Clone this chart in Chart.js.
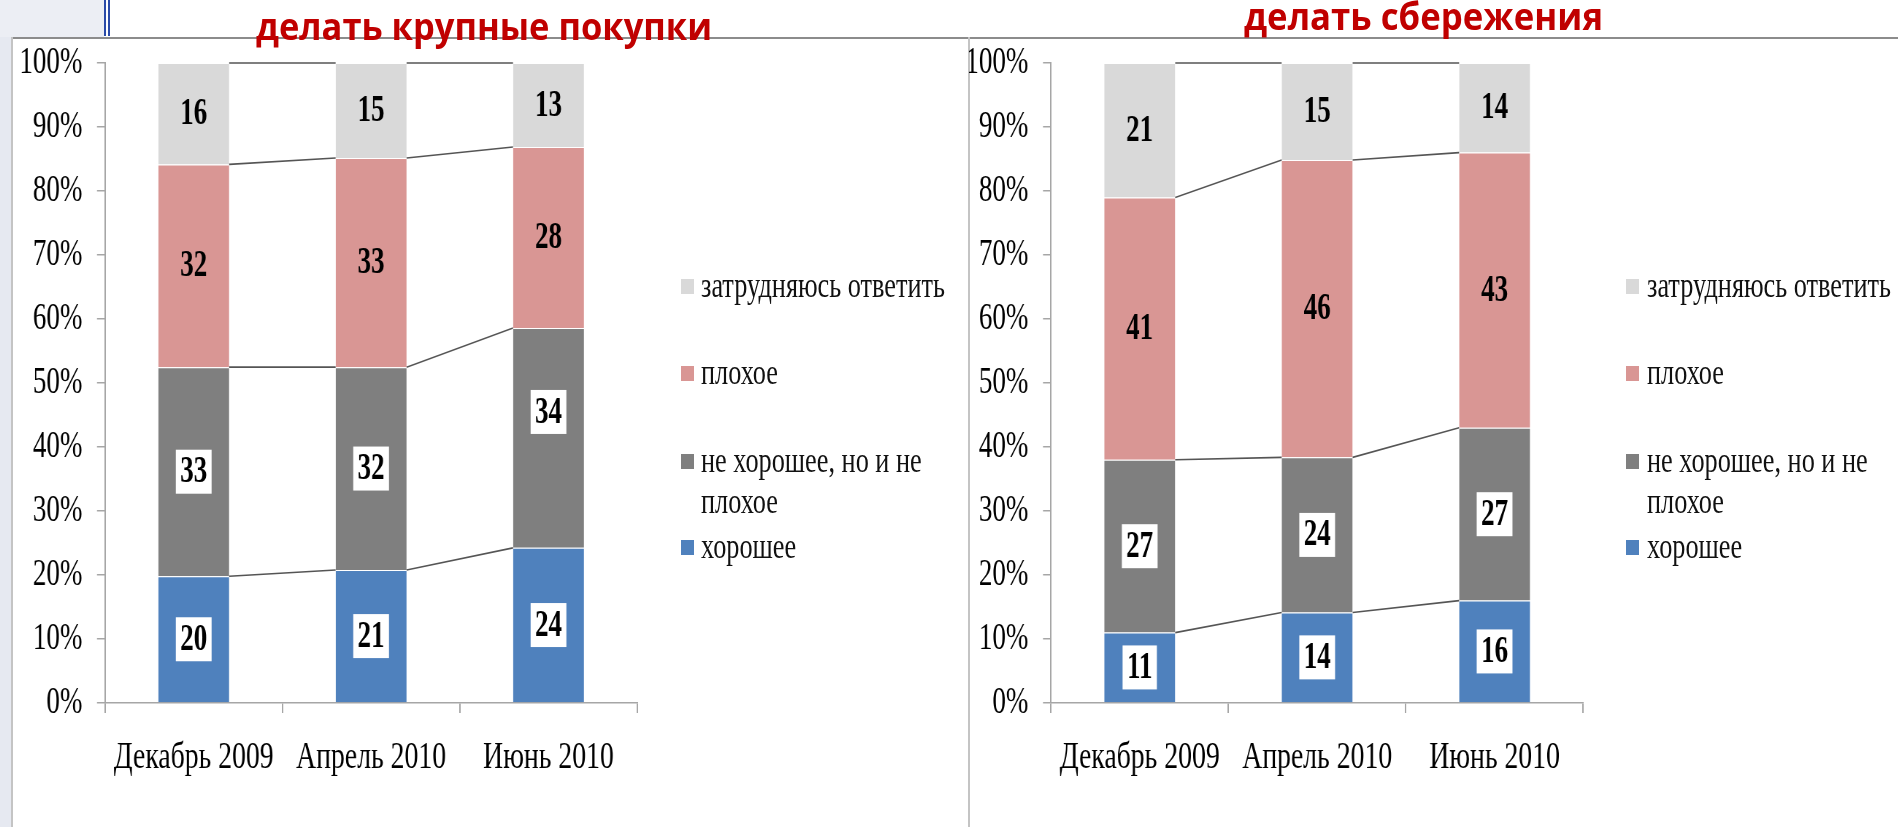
<!DOCTYPE html>
<html>
<head>
<meta charset="utf-8">
<script src="https://cdn.jsdelivr.net/npm/chart.js@4.4.0/dist/chart.umd.min.js"></script>
<style>
  html, body { margin: 0; padding: 0; }
  body { width: 1898px; height: 827px; position: relative; background: #fff; overflow: hidden; }
  .abs { position: absolute; }
  canvas.abs { transform-origin: 0 0; }
  .title { position: absolute; font-family: "Open Sans", sans-serif; font-weight: 700; color: #C00000;
           font-size: 38px; line-height: 38px; white-space: nowrap; transform-origin: 0 0; }
  .leg-box { position: absolute; width: 13px; height: 15px; }
  .leg-text { position: absolute; font-family: "Liberation Serif", "Times New Roman", serif; font-size: 36px;
              line-height: 41px; color: #111; white-space: nowrap; transform-origin: 0 50%; }
</style>
</head>
<body>
<!-- slide decoration at the left edge -->
<div class="abs" style="left:0;top:0;width:11px;height:827px;background:#e6e9f1"></div>
<div class="abs" style="left:0;top:0;width:104px;height:37px;background:#eceef4"></div>
<div class="abs" style="left:104px;top:0;width:2px;height:36px;background:#2a4aa8"></div>
<div class="abs" style="left:108px;top:0;width:2px;height:36px;background:#2a4aa8"></div>

<!-- frames -->
<div class="abs" style="left:11px;top:37px;width:1887px;height:1.5px;background:#8c8c8c"></div>
<div class="abs" style="left:11px;top:37px;width:1.5px;height:790px;background:#c4c4c4"></div>
<div class="abs" style="left:968px;top:37px;width:1.5px;height:790px;background:#c4c4c4"></div>

<canvas id="purchases" class="abs" style="left:11px;top:37px"></canvas>
<canvas id="savings" class="abs" style="left:969px;top:37px"></canvas>

<div id="titleL" class="title">делать крупные покупки</div>
<div id="titleR" class="title">делать сбережения</div>

<script>
// categories and series
const categories = ['Декабрь 2009', 'Апрель 2010', 'Июнь 2010'];
const seriesNames = ['хорошее', 'не хорошее, но и не плохое', 'плохое', 'затрудняюсь ответить'];
const seriesColors = ['#4F81BD', '#7F7F7F', '#D99694', '#D9D9D9'];

// "делать крупные покупки"
const purchasesGood    = [20, 21, 24];
const purchasesNeutral = [33, 32, 34];
const purchasesBad     = [32, 33, 28];
const purchasesUnsure  = [16, 15, 13];

// "делать сбережения"
const savingsGood    = [11, 14, 16];
const savingsNeutral = [27, 24, 27];
const savingsBad     = [41, 46, 43];
const savingsUnsure  = [21, 15, 14];

const serif = '"Liberation Serif", "Times New Roman", serif';
const axisColor = '#a6a6a6';
// the slide is squeezed sideways, so the canvases are drawn wide and narrowed with css
const squeeze = 0.73;

// Excel style series lines between neighbouring bars
const seriesLines = {
  id: 'seriesLines',
  afterDatasetsDraw(chart) {
    const ctx = chart.ctx;
    ctx.save();
    ctx.strokeStyle = '#555';
    ctx.lineWidth = 1.6;
    chart.data.datasets.forEach((ds, i) => {
      const bars = chart.getDatasetMeta(i).data;
      for (let j = 0; j < bars.length - 1; j++) {
        const a = bars[j], b = bars[j + 1];
        ctx.beginPath();
        ctx.moveTo(a.x + a.width / 2, a.y);
        ctx.lineTo(b.x - b.width / 2, b.y);
        ctx.stroke();
      }
    });
    ctx.restore();
  }
};

// value labels, white box on the two lower series
const valueLabels = {
  id: 'valueLabels',
  afterDatasetsDraw(chart, args, opts) {
    const ctx = chart.ctx;
    const nudge = opts.nudge || {};
    ctx.save();
    ctx.font = 'bold 37px ' + serif;
    ctx.textAlign = 'center';
    ctx.textBaseline = 'middle';
    chart.data.datasets.forEach((ds, i) => {
      chart.getDatasetMeta(i).data.forEach((bar, j) => {
        const text = String(ds.raw[j]);
        const cy = (bar.y + bar.base) / 2 + (nudge[i + ':' + j] || 0);
        if (ds.boxed) {
          const w = ctx.measureText(text).width + 12;
          ctx.fillStyle = '#fff';
          ctx.fillRect(bar.x - w / 2, cy - 22, w, 44);
        }
        ctx.fillStyle = '#000';
        ctx.fillText(text, bar.x, cy + 1);
      });
    });
    ctx.restore();
  }
};

function makeChart(id, values, width, yAxisWidth, padRight, nudge) {
  const totals = categories.map((c, j) => values.reduce((s, arr) => s + arr[j], 0));
  const canvas = document.getElementById(id);
  canvas.width = Math.round(width / squeeze);
  canvas.height = 790;
  const chart = new Chart(canvas, {
    type: 'bar',
    data: {
      labels: categories,
      datasets: seriesNames.map((name, i) => ({
        label: name,
        data: values[i].map((v, j) => v / totals[j] * 100),
        raw: values[i],
        boxed: i < 2,
        backgroundColor: seriesColors[i],
        borderColor: 'rgba(255,255,255,0.8)',
        borderWidth: { top: 1, left: 0, right: 0, bottom: 0 },
        borderSkipped: false,
        categoryPercentage: 1,
        barPercentage: 0.4
      }))
    },
    options: {
      responsive: false,
      animation: false,
      layout: { padding: { top: 26, right: padRight / squeeze, bottom: 0, left: 0 } },
      plugins: {
        legend: { display: false },
        tooltip: { enabled: false },
        valueLabels: { nudge: nudge }
      },
      scales: {
        x: {
          stacked: true,
          offset: true,
          grid: { display: true, drawOnChartArea: false, offset: true, tickLength: 10, color: axisColor, lineWidth: 2 },
          border: { display: true, color: axisColor, width: 1.5 },
          ticks: { color: '#000', font: { family: serif, size: 38 }, padding: 22, maxRotation: 0, autoSkip: false },
          afterFit(scale) { scale.height = 124; }
        },
        y: {
          stacked: true,
          min: 0,
          max: 100,
          grid: { display: true, drawOnChartArea: false, tickLength: 11, color: axisColor, lineWidth: 1.5 },
          border: { display: true, color: axisColor, width: 2 },
          // small lineHeight keeps the label overhang inside the top padding
          ticks: { stepSize: 10, color: '#000', font: { family: serif, size: 37, lineHeight: 0.3 }, padding: 20,
                   callback: v => v + '%' },
          afterFit(scale) { scale.width = yAxisWidth / squeeze; }
        }
      }
    },
    plugins: [seriesLines, valueLabels]
  });
  canvas.style.transform = 'scaleX(' + squeeze + ')';
  return chart;
}

makeChart('purchases', [purchasesGood, purchasesNeutral, purchasesBad, purchasesUnsure], 951, 94, 325, { '1:2': -26 });
makeChart('savings', [savingsGood, savingsNeutral, savingsBad, savingsUnsure], 929, 82, 315, {});

// legends (top to bottom: reverse of the stack)
const legendRows = [286, 373, 461, 547];
function makeLegend(boxX, textX) {
  [3, 2, 1, 0].forEach((s, r) => {
    const box = document.createElement('div');
    box.className = 'leg-box';
    box.style.left = boxX + 'px';
    box.style.top = (legendRows[r] - 7.5) + 'px';
    box.style.background = seriesColors[s];
    document.body.appendChild(box);
    const t = document.createElement('div');
    t.className = 'leg-text';
    t.style.left = textX + 'px';
    t.style.top = (legendRows[r] - 21) + 'px';
    t.style.transform = 'scaleX(' + squeeze + ')';
    if (s === 1) { t.style.whiteSpace = 'normal'; t.style.width = (250 / squeeze) + 'px'; t.style.transformOrigin = '0 20px'; }
    t.textContent = seriesNames[s];
    document.body.appendChild(t);
  });
}
makeLegend(681, 701);
makeLegend(1626, 1647);

// titles squeezed to the width they take on the slide
function placeTitle(id, left, right, top) {
  const el = document.getElementById(id);
  const w = el.getBoundingClientRect().width;
  el.style.left = left + 'px';
  el.style.top = top + 'px';
  el.style.transform = 'scaleX(' + ((right - left) / w) + ')';
}
placeTitle('titleL', 256, 712, 6);
placeTitle('titleR', 1244, 1603, -4);
</script>
</body>
</html>
